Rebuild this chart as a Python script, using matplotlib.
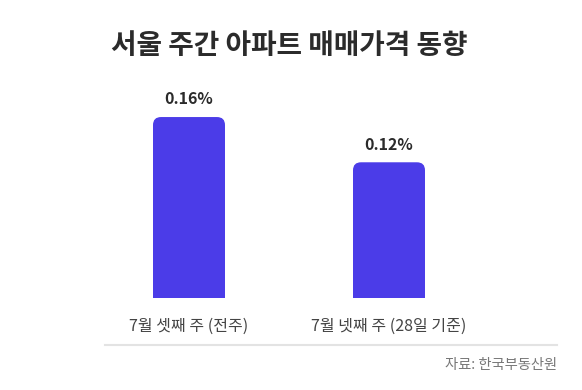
import matplotlib
matplotlib.use("Agg")
import matplotlib.pyplot as plt
from matplotlib.patches import FancyBboxPatch, Rectangle

plt.rcParams['font.family'] = ['Noto Sans CJK KR', 'DejaVu Sans']

title = "서울 주간 아파트 매매가격 동향"
categories = ["7월 셋째 주 (전주)", "7월 넷째 주 (28일 기준)"]
values = [0.16, 0.12]
value_labels = ["0.16%", "0.12%"]
source = "자료: 한국부동산원"

W, H = 582, 390
bar_color = "#4B3CE8"

fig = plt.figure(figsize=(W / 100, H / 100), dpi=100)
ax = fig.add_axes([105 / W, (H - 298) / H, 452 / W, 238 / H])
ax.set_xlim(-0.42, 1.84)
ax.set_ylim(0, 238 / 1131)
ax.axis("off")

bw = 0.36
r = 0.04  # corner radius in x units (~8px)
asp = (1 / 1131) / (1 / 200)
for i, v in enumerate(values):
    x0 = i - bw / 2
    # rounded box plus a plain rectangle to square off the bottom
    ax.add_patch(FancyBboxPatch((x0, 0), bw, v,
                                boxstyle=f"round,pad=0,rounding_size={r}",
                                mutation_aspect=asp, fc=bar_color, ec="none"))
    ax.add_patch(Rectangle((x0, 0), bw, v / 2, fc=bar_color, ec="none"))
    ax.annotate(value_labels[i], (i, v), xytext=(0, 7), textcoords="offset points",
                ha="center", va="bottom", fontsize=11.5, fontweight="bold", color="#2b2b2b")

for i, c in enumerate(categories):
    fig.text((189 + 200 * i) / W, 1 - 326 / H, c, ha="center", va="center",
             fontsize=11.5, color="#444444")

fig.text(289 / W, 1 - 46 / H, title, ha="center", va="center",
         fontsize=20, fontweight="bold", color="#2b2b2b")

fig.add_artist(plt.Line2D([105 / W, 557 / W], [1 - 345 / H] * 2, color="#e3e3e3", lw=1.5))
fig.text(557 / W, 1 - 365 / H, source, ha="right", va="center", fontsize=10.3, color="#777777")

fig.savefig("out.png", dpi=100)
